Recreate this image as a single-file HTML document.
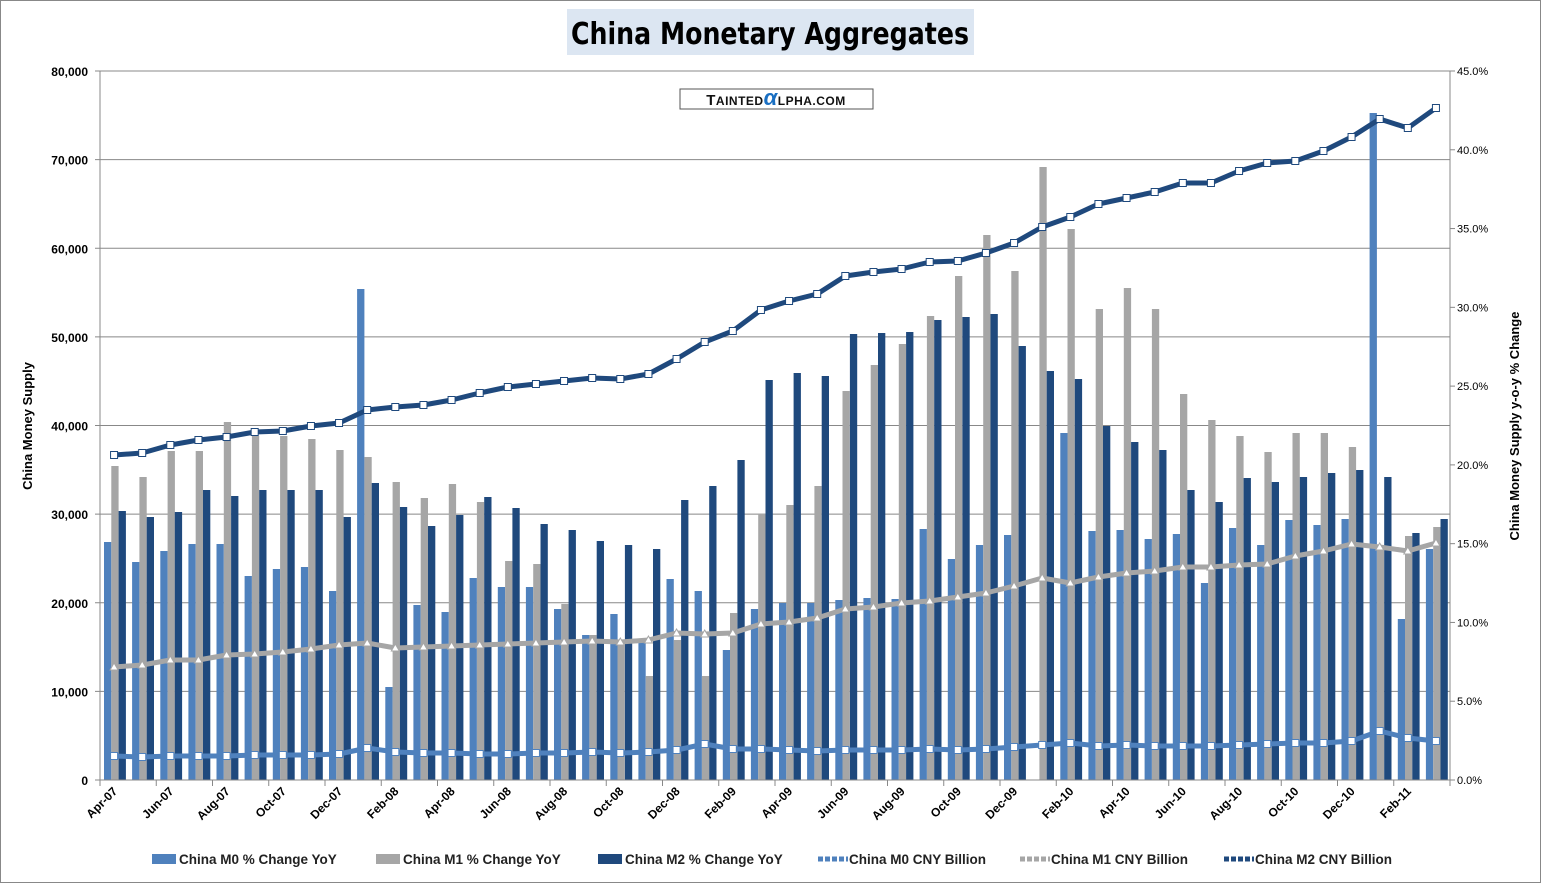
<!DOCTYPE html>
<html><head><meta charset="utf-8"><style>
body{margin:0;background:#fff;}
svg{display:block;font-family:"Liberation Sans",Arial,sans-serif;}
</style></head><body>
<svg id="c" width="1541" height="883" xmlns="http://www.w3.org/2000/svg">
<rect x="0.5" y="0.5" width="1540" height="882" fill="#fff" stroke="#888"/>
<rect x="567" y="9" width="407" height="46" fill="#dce6f2"/>
<text x="770" y="44" font-size="30" font-weight="bold" text-anchor="middle" fill="#000" style="font-family:'DejaVu Sans','Liberation Sans',sans-serif" textLength="398" lengthAdjust="spacingAndGlyphs">China Monetary Aggregates</text>
<g id="g"></g>
<rect x="680" y="89" width="193" height="20" fill="#fff" stroke="#555"/>
<text x="776" y="105" font-size="15" text-anchor="middle" fill="#111" font-weight="bold" letter-spacing="0.5">T<tspan font-size="12">AINTED</tspan><tspan fill="#1a6fc2" font-size="22" font-style="italic">α</tspan><tspan font-size="12">LPHA.COM</tspan></text>
<text transform="translate(32,426) rotate(-90)" font-size="13" font-weight="bold" text-anchor="middle">China Money Supply</text>
<text transform="translate(1519,426) rotate(-90)" font-size="13" font-weight="bold" text-anchor="middle">China Money Supply y-o-y % Change</text>
</svg>
<script>
const g=document.getElementById('g');let s='';
const L=100,R=1450,T=71,B=780,cw=(R-L)/48;
for(let i=0;i<=8;i++){const y=B-(B-T)*i/8;s+=`<line x1="${L}" x2="${R}" y1="${y}" y2="${y}" stroke="#888"/>`;
s+=`<text x="${L-12}" y="${y+5}" font-size="12" font-weight="bold" text-anchor="end">${(i*10000).toLocaleString('en-US')}</text>`;
s+=`<line x1="${L-5}" x2="${L}" y1="${y}" y2="${y}" stroke="#888"/>`;}
for(let i=0;i<=9;i++){const y=B-(B-T)*i/9;s+=`<text x="${R+7}" y="${y+4}" font-size="11">${(i*5).toFixed(1)}%</text><line x1="${R}" x2="${R+5}" y1="${y}" y2="${y}" stroke="#888"/>`;}
const m0=[542,562,551,544,544,576,569,567,591,289,687,605,612,578,587,587,609,635,614,640,579,591,650,609,603,603,600,598,599,529,559,545,535,780,433,531,530,539,534,583,528,545,520,525,519,113,619,549];
const m1=[466,477,451,451,422,436,436,439,450,457,482,498,484,502,561,564,604,635,640,676,640,676,613,514,505,486,391,365,344,316,276,235,271,167,229,309,288,309,394,420,436,452,433,433,447,545,536,527];
const m2=[511,517,512,490,496,490,490,490,517,483,507,526,515,497,508,524,530,541,545,549,500,486,460,380,373,376,334,333,332,320,317,314,346,371,379,426,442,450,490,502,478,482,477,473,470,477,533,519];
const l2=[455,453,445,440,437,432,431,426,423,410,407,405,400,393,387,384,381,378,379,374,359,342,331,310,301,294,276,272,269,262,261,253,243,227,217,204,198,192,183,183,171,163,161,151,137,119,128,108];
const l1=[667,665,660,660,655,654,652,649,645,643,648,647,646,645,644,643,642,641,642,640,633,634,633,624,622,618,609,607,603,601,597,593,586,578,583,577,573,571,567,567,565,564,556,551,544,547,551,543];
const l0=[756,757,756,756,756,755,755,755,754,748,752,753,753,754,754,753,753,752,753,752,750,744,749,749,750,751,750,750,750,749,750,749,747,745,743,746,745,746,746,746,745,744,743,743,741,731,738,741];
const cols=['#4f81bd','#a6a6a6','#1f497d'];
[m0,m1,m2].forEach((a,k)=>a.forEach((y,i)=>{const x=L+i*cw+4+k*7.3;s+=`<rect x="${x.toFixed(1)}" y="${y}" width="7.3" height="${B-y}" fill="${cols[k]}"/>`;}));
s+=`<line x1="${L}" x2="${L}" y1="${T}" y2="${B}" stroke="#888"/><line x1="${R}" x2="${R}" y1="${T}" y2="${B}" stroke="#888"/><line x1="${L}" x2="${R}" y1="${B}" y2="${B}" stroke="#888"/>`;
const mon=['Apr','Jun','Aug','Oct','Dec','Feb'];
for(let i=0;i<24;i++){const x=L+i*2*cw;s+=`<line x1="${x}" x2="${x}" y1="${B}" y2="${B+6}" stroke="#888"/>`;
const yr=['07','08','09','10','11'][Math.floor((i*2+3)/12)];const lab=mon[i%6]+'-'+yr;
const cx=x+cw/2+4;s+=`<text transform="translate(${cx},${B+12}) rotate(-45)" font-size="12" font-weight="bold" text-anchor="end">${lab}</text>`;}
s+=`<line x1="${R}" x2="${R}" y1="${B}" y2="${B+6}" stroke="#888"/>`;
function line(a,c,mk){const pts=a.map((y,i)=>[L+(i+0.5)*cw,y]);s+=`<polyline points="${pts.map(p=>p.join(',')).join(' ')}" fill="none" stroke="${c}" stroke-width="5" stroke-linejoin="round"/>`;
pts.forEach(([x,y])=>{if(mk=='t')s+=`<polygon points="${x},${y-4} ${x+4},${y+3} ${x-4},${y+3}" fill="#fff" stroke="${c}"/>`;else s+=`<rect x="${x-3.5}" y="${y-3.5}" width="7" height="7" fill="#fff" stroke="${c}"/>`;});}
line(l1,'#a6a6a6','t');line(l0,'#4f81bd','s');line(l2,'#1f497d','s');
const leg=[['China M0 % Change YoY',152,0,'b'],['China M1 % Change YoY',376,1,'b'],['China M2 % Change YoY',598,2,'b'],['China M0 CNY Billion',818,0,'l'],['China M1 CNY Billion',1020,1,'l'],['China M2 CNY Billion',1224,2,'l']];
leg.forEach(([t,x,k,ty])=>{if(ty=='b')s+=`<rect x="${x}" y="854" width="24" height="10" fill="${cols[k]}"/>`;else{s+=`<line x1="${x}" x2="${x+30}" y1="859" y2="859" stroke="${cols[k]}" stroke-width="5" stroke-dasharray="5,2"/>`;}
s+=`<text x="${x+(ty=='b'?27:31)}" y="864" font-size="13.5" font-weight="bold" fill="#222">${t}</text>`;});
g.innerHTML=s;
</script>
</body></html>
